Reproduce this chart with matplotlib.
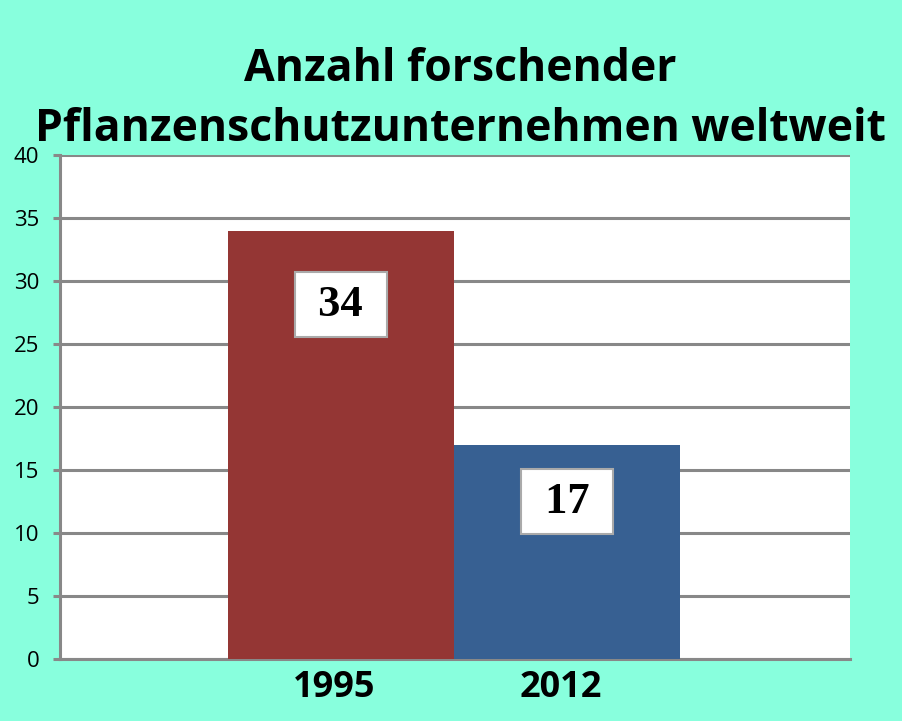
import matplotlib
matplotlib.use("Agg")
import matplotlib.pyplot as plt

categories = ["1995", "2012"]
values = [34, 17]
bar_colors = ["#943634", "#376092"]
title = "Anzahl forschender\nPflanzenschutzunternehmen weltweit"
yticks = [0, 5, 10, 15, 20, 25, 30, 35, 40]
label_offsets_px = [-74, -57]

fig = plt.figure(figsize=(9.02, 7.21), dpi=100, facecolor="#88FFDD")
ax = fig.add_axes([0.0665, 0.086, 0.876, 0.699])
ax.set_facecolor("white")

x = list(range(len(categories)))
ax.bar(x, values, width=1.0, color=bar_colors, zorder=3)
ax.set_xlim(-1.24, 2.25)
ax.set_ylim(0, 40)
ax.set_yticks(yticks)
ax.yaxis.grid(True, color="#888888", linewidth=2.2, zorder=1)
ax.set_axisbelow(True)
for s in ["top", "right"]:
    ax.spines[s].set_visible(False)
ax.spines["left"].set_color("#888888")
ax.spines["left"].set_linewidth(2.2)
ax.spines["bottom"].set_color("#888888")
ax.spines["bottom"].set_linewidth(2.2)
ax.tick_params(axis="y", length=5, width=2.2, color="#888888", labelsize=16,
               pad=10)
ax.tick_params(axis="x", length=0, pad=8)
for t in ax.get_yticklabels():
    t.set_fontfamily("Open Sans")
ax.set_xticks([xi - 0.03 for xi in x])
ax.set_xticklabels(categories, fontsize=26, fontweight="bold", family="Open Sans")

for xi, v, off in zip(x, values, label_offsets_px):
    ax.annotate(f" {v} ", xy=(xi, v), xytext=(0, off * 72 / 100), textcoords="offset points",
                ha="center", va="center", fontsize=32, fontweight="bold",
                family="Liberation Serif", zorder=5,
                bbox=dict(boxstyle="square,pad=0.28", facecolor="white",
                          edgecolor="#aaaaaa", linewidth=1.5))

fig.text(0.51, 0.862, title, ha="center", va="center", fontsize=32,
         fontweight="bold", family="Open Sans", linespacing=1.42)

fig.savefig("out.png", dpi=100, facecolor=fig.get_facecolor())
